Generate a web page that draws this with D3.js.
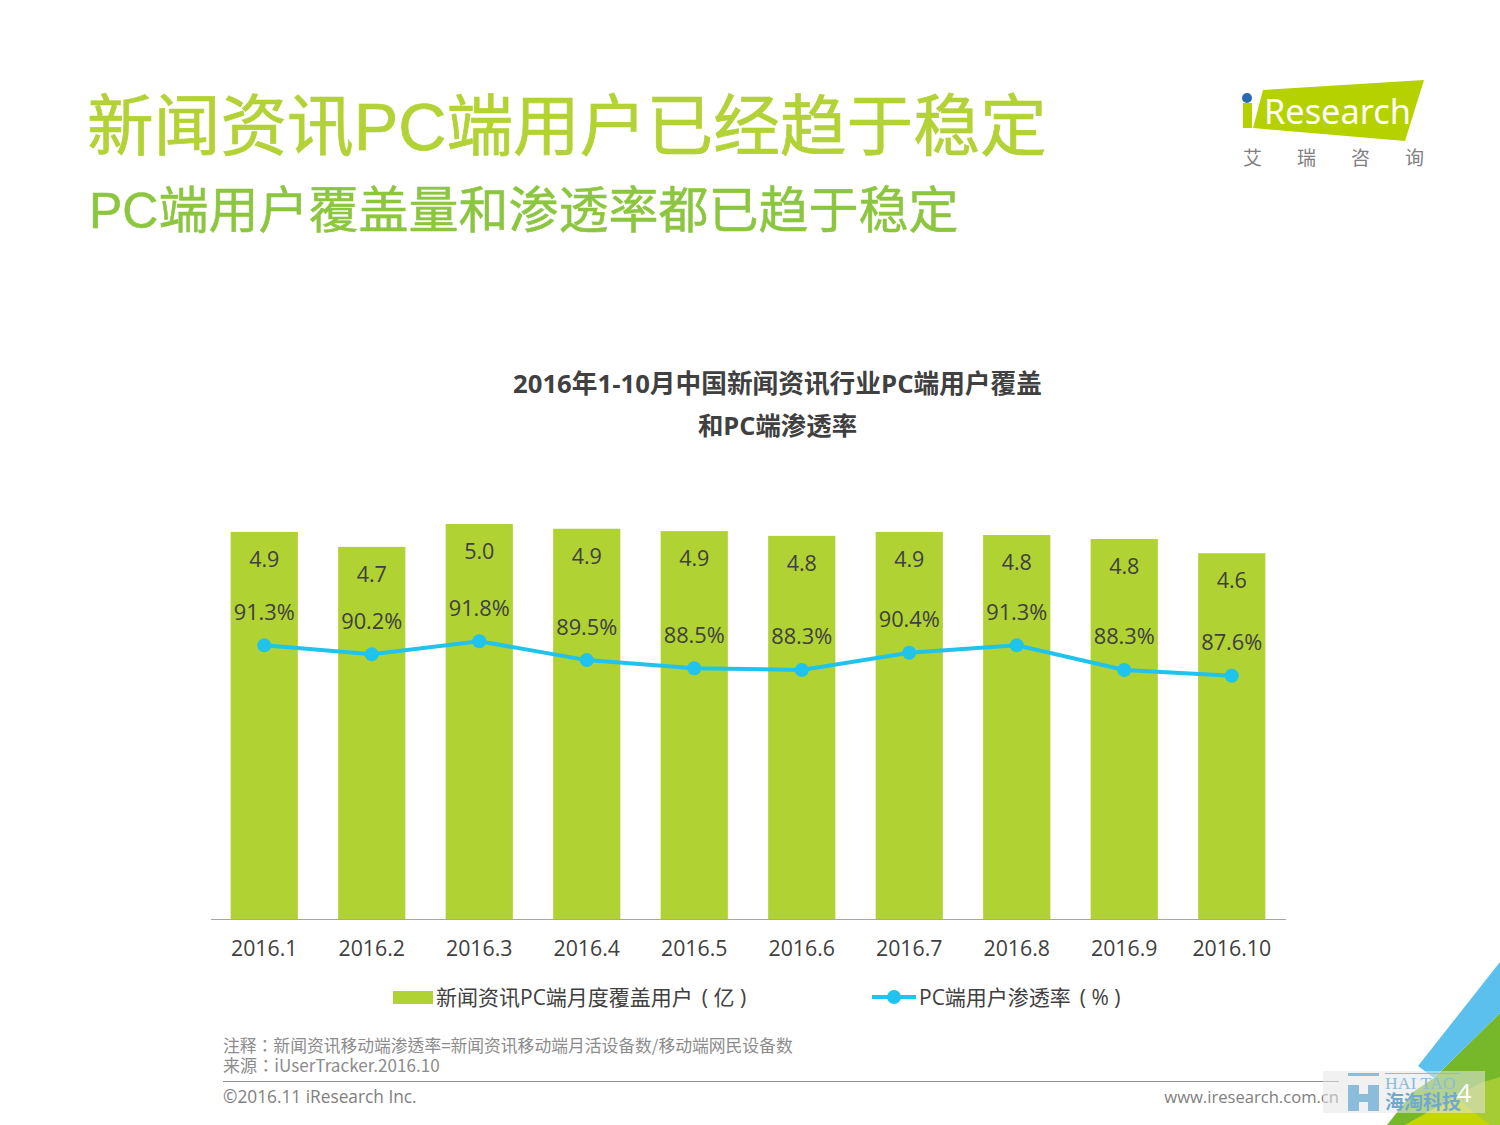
<!DOCTYPE html>
<html>
<head>
<meta charset="utf-8">
<script src="https://cdn.jsdelivr.net/npm/d3@7"></script>
<style>
  html, body { margin: 0; padding: 0; background: #fff; }
  svg { display: block; }
  text { font-family: "Open Sans", "Noto Sans CJK SC", sans-serif; }
</style>
</head>
<body>
<svg width="1500" height="1125"></svg>
<script>
const months = ["2016.1","2016.2","2016.3","2016.4","2016.5","2016.6","2016.7","2016.8","2016.9","2016.10"];
const users = [4.9, 4.71, 5.0, 4.94, 4.91, 4.85, 4.9, 4.86, 4.81, 4.63];
const userLabels = ["4.9","4.7","5.0","4.9","4.9","4.8","4.9","4.8","4.8","4.6"];
const rates = [91.3, 90.2, 91.8, 89.5, 88.5, 88.3, 90.4, 91.3, 88.3, 87.6];

const svg = d3.select("svg");
const cjk = '"Noto Sans CJK SC", sans-serif';
const cjkCentered = '"Noto Sans CJK TC", sans-serif'; // centred colon like the original
const heading = '"Liberation Sans", "Noto Sans CJK SC", sans-serif';

// helper for the plain text on the slide
function label(x, y, str, size, fill, anchor, weight, family) {
  return svg.append("text")
    .attr("x", x).attr("y", y)
    .attr("font-size", size)
    .attr("fill", fill)
    .attr("text-anchor", anchor || "start")
    .attr("font-weight", weight || 400)
    .style("font-family", family || null)
    .text(str);
}

// Corner decoration
svg.append("polygon").attr("points", "1500,1013 1434,1078 1413,1092 1387,1125 1500,1125").attr("fill", "#76b82a");
svg.append("polygon").attr("points", "1500,962 1418,1066 1434,1078 1500,1013").attr("fill", "#5bc0ee");
svg.append("polygon").attr("points", "1500,1077 1480,1083 1405,1125 1500,1125").attr("fill", "#a5cb35");
svg.append("polygon").attr("points", "1405,1125 1455,1097 1490,1125").attr("fill", "#c4d600");

// Headings
label(87, 150, "新闻资讯PC端用户已经趋于稳定", 66.7, "#b2d235", "start", 400, heading)
  .attr("stroke", "#b2d235").attr("stroke-width", 0.7);
label(89, 228, "PC端用户覆盖量和渗透率都已趋于稳定", 50, "#8cc63f", "start", 400, heading)
  .attr("stroke", "#8cc63f").attr("stroke-width", 0.5);

// Logo
svg.append("polygon").attr("points", "1263,90 1424,80 1405,141 1253,128").attr("fill", "#b5d100");
svg.append("rect").attr("x", 1243).attr("y", 103).attr("width", 9).attr("height", 25).attr("fill", "#b5d100");
svg.append("circle").attr("cx", 1247).attr("cy", 98).attr("r", 5).attr("fill", "#2a6ab0");
label(1264, 124, "Research", 34.3, "#fff", "start", 400, '"Noto Sans", sans-serif');
["艾", "瑞", "咨", "询"].forEach((c, i) => label(1252.5 + i * 54, 165, c, 19, "#808080", "middle", 400, cjk));

// Chart title
label(777.5, 393, "2016年1-10月中国新闻资讯行业PC端用户覆盖", 25.7, "#404040", "middle", 700);
label(777.5, 435, "和PC端渗透率", 25.4, "#404040", "middle", 700);

// Scales
const x = d3.scaleBand().domain(months).range([211, 1286]).paddingInner(0.375).paddingOuter(0.1875);
const yBar = d3.scaleLinear().domain([0, 5]).range([919, 524]);
const yRate = d3.scaleLinear().domain([60, 100]).range([902, 574]);
const cx = m => x(m) + x.bandwidth() / 2 - 0.5;

svg.selectAll(".bar").data(months).join("rect")
  .attr("class", "bar")
  .attr("x", d => x(d) - 0.5)
  .attr("width", x.bandwidth())
  .attr("y", (d, i) => yBar(users[i]))
  .attr("height", (d, i) => 919 - yBar(users[i]))
  .attr("fill", "#b0d232");

// Axis
const axis = svg.append("g")
  .attr("transform", "translate(-0.5,919)")
  .call(d3.axisBottom(x).tickSize(0).tickPadding(22));
axis.select(".domain").attr("stroke", "#a6a6a6").attr("stroke-width", 1);
axis.selectAll("text")
  .attr("font-size", 21.3)
  .attr("fill", "#404040")
  .style("font-family", '"Open Sans", sans-serif');

// Bar labels
svg.selectAll(".bar-label").data(months).join("text")
  .attr("class", "bar-label")
  .attr("x", cx)
  .attr("y", (d, i) => yBar(users[i]) + 35)
  .attr("text-anchor", "middle")
  .attr("font-size", 21.5)
  .attr("fill", "#404040")
  .text((d, i) => userLabels[i]);

// Rate line
const line = d3.line().x((d, i) => cx(months[i])).y(d => yRate(d));
svg.append("path")
  .datum(rates)
  .attr("fill", "none")
  .attr("stroke", "#1fc3ec")
  .attr("stroke-width", 4)
  .attr("d", line);
svg.selectAll(".dot").data(rates).join("circle")
  .attr("class", "dot")
  .attr("cx", (d, i) => cx(months[i]))
  .attr("cy", d => yRate(d))
  .attr("r", 7)
  .attr("fill", "#1fc3ec");
svg.selectAll(".rate-label").data(rates).join("text")
  .attr("class", "rate-label")
  .attr("x", (d, i) => cx(months[i]))
  .attr("y", d => yRate(d) - 25.5)
  .attr("text-anchor", "middle")
  .attr("font-size", 21.8)
  .attr("fill", "#404040")
  .text(d => d.toFixed(1) + "%");

// Legend
svg.append("rect").attr("x", 393).attr("y", 991).attr("width", 40).attr("height", 13).attr("fill", "#b0d232");
label(436, 1005, "新闻资讯PC端月度覆盖用户\u00a0\u2009(\u00a0亿\u00a0)", 21, "#404040");
svg.append("line").attr("x1", 872).attr("x2", 916).attr("y1", 997).attr("y2", 997).attr("stroke", "#1fc3ec").attr("stroke-width", 4);
svg.append("circle").attr("cx", 894).attr("cy", 997).attr("r", 7).attr("fill", "#1fc3ec");
label(919, 1005, "PC端用户渗透率\u00a0\u2009(\u00a0%\u00a0)", 21, "#404040");

// Notes and footer
label(223, 1052, "注释：新闻资讯移动端渗透率=新闻资讯移动端月活设备数/移动端网民设备数", 16.8, "#8c8c8c", "start", 400, cjkCentered);
label(223, 1072, "来源：iUserTracker.2016.10", 17.1, "#8c8c8c", "start", 400, cjkCentered);
svg.append("line").attr("x1", 223).attr("x2", 1339).attr("y1", 1081.5).attr("y2", 1081.5).attr("stroke", "#8c8c8c");
label(223, 1103, "©2016.11 iResearch Inc.", 17.3, "#808080");
label(1339, 1103, "www.iresearch.com.cn", 16.6, "#808080", "end");

// Watermark
svg.append("rect").attr("x", 1323).attr("y", 1071).attr("width", 162).attr("height", 42).attr("fill", "#e6e6e6").attr("fill-opacity", 0.55);
svg.append("rect").attr("x", 1348).attr("y", 1073).attr("width", 31).attr("height", 3).attr("fill", "#8bbcd9");
svg.append("rect").attr("x", 1385).attr("y", 1073).attr("width", 75).attr("height", 1).attr("fill", "#8bbcd9");
svg.append("path").attr("d", "M1348,1085h11v9h9v-9h11v26h-11v-9h-9v9h-11z").attr("fill", "#8bbcd9");
label(1385, 1089, "HAI TAO", 17.7, "#8bbcd9", "start", 400, '"Liberation Serif", serif');
label(1385, 1109, "海淘科技", 19, "#6fa9cf", "start", 700, cjk);
label(1464, 1102, "4", 26, "#fff", "middle");
</script>
</body>
</html>
